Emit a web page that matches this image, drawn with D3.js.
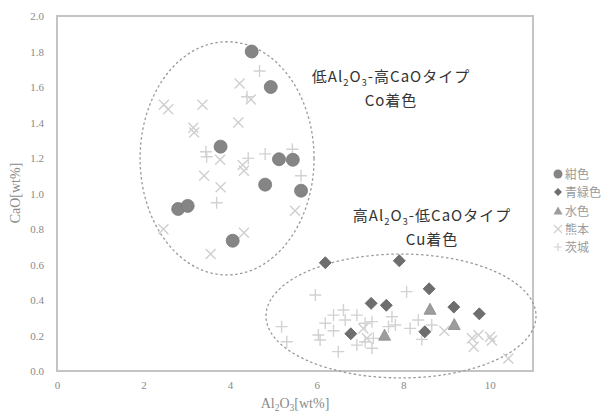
<!DOCTYPE html>
<html><head><meta charset="utf-8">
<script src="https://cdn.jsdelivr.net/npm/d3@7"></script>
<style>
html,body{margin:0;padding:0;background:#fff;}
</style></head>
<body><svg id="c" width="614" height="414"></svg>
<script>
// ---- data ----
const seriesNames = ["紺色", "青緑色", "水色", "熊本", "茨城"];
const xTicks = [0, 2, 4, 6, 8, 10];
const yTicks = [0, 0.2, 0.4, 0.6, 0.8, 1.0, 1.2, 1.4, 1.6, 1.8, 2.0];
// 紺色 (circles)
const kon = [[4.50,1.80],[4.94,1.60],[3.78,1.264],[5.13,1.193],[5.45,1.19],[4.81,1.05],[5.64,1.016],[2.80,0.913],[3.02,0.93],[4.06,0.734]];
// 青緑色 (diamonds)
const aomidori = [[6.20,0.61],[7.91,0.621],[8.60,0.463],[7.26,0.381],[7.61,0.37],[9.17,0.36],[9.76,0.322],[6.79,0.21],[8.50,0.221]];
// 水色 (triangles)
const mizu = [[8.62,0.345],[9.18,0.259],[7.57,0.199]];
// 熊本 (x)
const kumamoto = [[2.47,1.50],[2.57,1.474],[3.36,1.50],[4.22,1.62],[4.48,1.53],[3.15,1.37],[3.17,1.343],[4.19,1.40],
  [3.77,1.19],[3.40,1.10],[4.29,1.16],[4.32,1.128],[3.78,1.035],[2.46,0.798],[4.32,0.779],[3.55,0.659],[5.50,0.903],
  [7.08,0.24],[7.16,0.184],[8.95,0.226],[9.59,0.184],[9.74,0.203],[10.01,0.193],[9.63,0.137],[10.05,0.172],[10.43,0.07]];
// 茨城 (+)
const ibaraki = [[4.68,1.69],[4.39,1.545],[3.44,1.235],[3.46,1.207],[4.42,1.198],[4.81,1.223],[5.44,1.249],[5.64,1.10],[3.69,0.948],
  [5.97,0.428],[5.19,0.25],[5.31,0.165],[6.04,0.203],[6.08,0.175],[6.39,0.315],[6.20,0.269],[6.39,0.227],[6.62,0.344],
  [6.66,0.287],[6.93,0.315],[7.12,0.269],[7.28,0.278],[6.50,0.109],[6.93,0.146],[7.12,0.165],[7.28,0.128],[7.31,0.184],
  [7.74,0.306],[7.66,0.25],[8.08,0.447],[7.82,0.259],[8.16,0.24],[8.35,0.287],[8.66,0.259],[8.43,0.178]];
// group ellipses [cx, cy, rx, ry] in data units
const groupEllipses = [[3.93,1.198,2.01,0.657],[7.95,0.31,3.12,0.349]];

// ---- layout ----
const svg = d3.select("#c");
const x = d3.scaleLinear().domain([0, 11]).range([57, 533]);
const y = d3.scaleLinear().domain([0, 2]).range([371, 16]);
const frameCol = "#c4c4c4";
const tickCol = "#8a8a8a";
const serif = "'Liberation Serif','DejaVu Serif',serif";
const gothic = "'Noto Sans CJK JP','Noto Sans',sans-serif";

// frame
svg.append("rect").attr("x", x(0)).attr("y", y(2)).attr("width", x(11) - x(0)).attr("height", y(0) - y(2))
  .attr("fill", "none").attr("stroke", frameCol).attr("stroke-width", 2);

// axes
const gx = svg.append("g").attr("transform", `translate(0,${y(0)})`)
  .call(d3.axisBottom(x).tickValues(xTicks).tickSize(0).tickPadding(10).tickFormat(d3.format("d")));
const gy = svg.append("g").attr("transform", `translate(${x(0)},0)`)
  .call(d3.axisLeft(y).tickValues(yTicks).tickSize(0).tickPadding(13).tickFormat(d3.format(".1f")));
[gx, gy].forEach(g => {
  g.select(".domain").remove();
  g.selectAll("text").attr("fill", tickCol).style("font-family", serif).style("font-size", "11px");
});

// axis titles
const xt = svg.append("text").attr("x", 295).attr("y", 408).attr("text-anchor", "middle")
  .attr("fill", tickCol).style("font-family", serif).style("font-size", "14px");
xt.append("tspan").text("Al");
xt.append("tspan").text("2").attr("dy", 3).style("font-size", "9.5px");
xt.append("tspan").text("O").attr("dy", -3);
xt.append("tspan").text("3").attr("dy", 3).style("font-size", "9.5px");
xt.append("tspan").text("[wt%]").attr("dy", -3);

svg.append("text").attr("transform", "translate(20,193) rotate(-90)").attr("text-anchor", "middle")
  .attr("fill", tickCol).style("font-family", serif).style("font-size", "14px").text("CaO[wt%]");

// group ellipses
svg.append("g").selectAll("ellipse").data(groupEllipses).join("ellipse")
  .attr("cx", d => x(d[0])).attr("cy", d => y(d[1]))
  .attr("rx", d => x(d[2]) - x(0)).attr("ry", d => y(0) - y(d[3]))
  .attr("fill", "none").attr("stroke", "#9a9a9a").attr("stroke-width", 1.3).attr("stroke-dasharray", "2.5,2.5");

// markers
const crossCol = "#cfcfcf";
const plusCol = "#d2d2d2";
svg.append("g").selectAll("path").data(kumamoto).join("path")
  .attr("transform", d => `translate(${x(d[0])},${y(d[1])})`)
  .attr("d", "M-5,-5L5,5M-5,5L5,-5").attr("stroke", crossCol).attr("stroke-width", 1.4).attr("fill", "none");
svg.append("g").selectAll("path").data(ibaraki).join("path")
  .attr("transform", d => `translate(${x(d[0])},${y(d[1])})`)
  .attr("d", "M-6,0L6,0M0,-6L0,6").attr("stroke", plusCol).attr("stroke-width", 1.4).attr("fill", "none");
svg.append("g").selectAll("path").data(mizu).join("path")
  .attr("transform", d => `translate(${x(d[0])},${y(d[1])})`)
  .attr("d", "M0,-6.5L6,4.5L-6,4.5Z").attr("fill", "#9c9c9c").attr("stroke", "#8c8c8c").attr("stroke-width", 0.8);
svg.append("g").selectAll("path").data(aomidori).join("path")
  .attr("transform", d => `translate(${x(d[0])},${y(d[1])})`)
  .attr("d", "M0,-6L6,0L0,6L-6,0Z").attr("fill", "#6e6e6e").attr("stroke", "#5e5e5e").attr("stroke-width", 0.8);
svg.append("g").selectAll("circle").data(kon).join("circle")
  .attr("cx", d => x(d[0])).attr("cy", d => y(d[1])).attr("r", 6.5)
  .attr("fill", "#858585").attr("stroke", "#777").attr("stroke-width", 0.8);

// annotation text
function typeLabel(cx, cy, pre, mid, line2) {
  const t = svg.append("text").attr("x", cx).attr("y", cy).attr("text-anchor", "middle")
    .attr("fill", "#333").style("font-family", gothic).style("font-size", "15px").style("letter-spacing", "1px");
  t.append("tspan").text(pre + "Al");
  t.append("tspan").text("2").attr("dy", 4).style("font-size", "9.5px");
  t.append("tspan").text("O").attr("dy", -4);
  t.append("tspan").text("3").attr("dy", 4).style("font-size", "9.5px");
  t.append("tspan").text(mid).attr("dy", -4);
  svg.append("text").attr("x", cx).attr("y", cy + 24).attr("text-anchor", "middle")
    .attr("fill", "#333").style("font-family", gothic).style("font-size", "15px").style("letter-spacing", "1px").text(line2);
}
typeLabel(391, 82, "低", "-高CaOタイプ", "Co着色");
typeLabel(432, 221, "高", "-低CaOタイプ", "Cu着色");

// legend
const legY = [174, 192, 211, 229, 247];
const lg = svg.append("g");
const legShapes = [
  g => g.append("circle").attr("r", 4.5).attr("fill", "#858585"),
  g => g.append("path").attr("d", "M0,-4L4,0L0,4L-4,0Z").attr("fill", "#6e6e6e"),
  g => g.append("path").attr("d", "M0,-4.5L4.5,3.5L-4.5,3.5Z").attr("fill", "#9c9c9c"),
  g => g.append("path").attr("d", "M-4,-4L4,4M-4,4L4,-4").attr("stroke", crossCol).attr("stroke-width", 1.2),
  g => g.append("path").attr("d", "M-4,0L4,0M0,-4L0,4").attr("stroke", plusCol).attr("stroke-width", 1.2)
];
seriesNames.forEach((name, i) => {
  const g = lg.append("g").attr("transform", `translate(558,${legY[i]})`);
  legShapes[i](g);
  g.append("text").attr("x", 7).attr("y", 4.5).attr("fill", "#9a9a9a")
    .style("font-family", gothic).style("font-size", "12px").text(name);
});
</script></body></html>
